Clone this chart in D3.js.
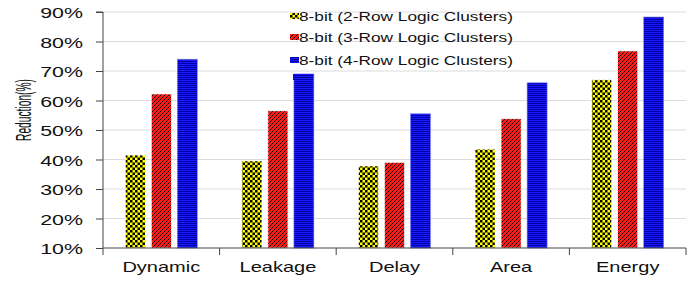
<html>
<script src="https://d3js.org/d3.v7.min.js"></script>
<body style="margin:0;background:#fff">
<script>
var categories = ['Dynamic', 'Leakage', 'Delay', 'Area', 'Energy']
var seriesNames = ['8-bit (2-Row Logic Clusters)', '8-bit (3-Row Logic Clusters)', '8-bit (4-Row Logic Clusters)']
var twoRow = [41.5, 39.5, 37.8, 43.5, 67.0]
var threeRow = [62.2, 56.5, 39.0, 53.8, 76.8]
var fourRow = [74.0, 69.0, 55.5, 66.0, 88.3]
var yTicks = [10, 20, 30, 40, 50, 60, 70, 80, 90]

var width = 691, height = 282
var margin = {left: 103, right: 5, top: 12, bottom: 34}
var stretch = 1.38   // the text in the picture is drawn wide
var svg = d3.select('body').append('svg').attr('width', width).attr('height', height)
    .style('font-family', 'Arial, "Liberation Sans", sans-serif')

var defs = svg.append('defs')
// yellow / black checkerboard
var p0 = defs.append('pattern').attr('id', 'p0').attr('patternUnits', 'userSpaceOnUse').attr('width', 5).attr('height', 5)
p0.append('rect').attr('width', 5).attr('height', 5).attr('fill', '#ffff00')
p0.append('rect').attr('width', 2.5).attr('height', 2.5).attr('fill', '#000')
p0.append('rect').attr('x', 2.5).attr('y', 2.5).attr('width', 2.5).attr('height', 2.5).attr('fill', '#000')
// red with diagonal black hatch
var p1 = defs.append('pattern').attr('id', 'p1').attr('patternUnits', 'userSpaceOnUse').attr('width', 4).attr('height', 4)
p1.append('rect').attr('width', 4).attr('height', 4).attr('fill', '#ff1a1a')
p1.append('path').attr('d', 'M-1,1 L1,-1 M0,4 L4,0 M3,5 L5,3').attr('stroke', '#000').attr('stroke-width', 0.9)
// blue with horizontal dark lines
var p2 = defs.append('pattern').attr('id', 'p2').attr('patternUnits', 'userSpaceOnUse').attr('width', 4).attr('height', 2)
p2.append('rect').attr('width', 4).attr('height', 2).attr('fill', '#1a1aff')
p2.append('rect').attr('y', 1).attr('width', 4).attr('height', 1).attr('fill', '#0000a8')

var fills = ['url(#p0)', 'url(#p1)', 'url(#p2)']
var data = [twoRow, threeRow, fourRow]

var x = d3.scaleBand().domain(categories).range([margin.left, width - margin.right])
var y = d3.scaleLinear().domain([10, 90]).range([height - margin.bottom, margin.top])

// gridlines
svg.append('g').selectAll('line').data(yTicks.slice(1)).enter().append('line')
    .attr('x1', margin.left).attr('x2', width - margin.right)
    .attr('y1', function(d){return y(d)}).attr('y2', function(d){return y(d)})
    .attr('stroke', '#dcdcdc').attr('stroke-width', 1)

// bars
var barW = 20, gap = 6
data.forEach(function(vals, s) {
    svg.append('g').selectAll('rect').data(vals).enter().append('rect')
        .attr('x', function(d, i){return x(categories[i]) + x.bandwidth()/2 - 1.5*barW - gap + s*(barW + gap)})
        .attr('y', function(d){return y(d)})
        .attr('width', barW)
        .attr('height', function(d){return y(10) - y(d)})
        .attr('fill', fills[s])
        .attr('stroke', s == 2 ? '#8080ff' : '#fff').attr('stroke-width', 0.6)
})

// y axis
var yAxis = svg.append('g').attr('transform', `translate(${margin.left},0)`)
    .call(d3.axisLeft(y).tickValues(yTicks).tickSize(7).tickFormat(function(d){return d + '%'}))
yAxis.select('.domain').attr('stroke', '#444').attr('d', `M-7,${y(90)}H0V${y(10)}`)
yAxis.selectAll('.tick line').attr('stroke', '#444')
yAxis.selectAll('.tick text').attr('x', 0).attr('dy', null).attr('y', 5.5)
    .attr('transform', `translate(-20,0) scale(${stretch},1)`)
    .attr('font-size', 15.5).attr('fill', '#111')
    .style('font-family', 'Arial, "Liberation Sans", sans-serif')

// x axis
var xAxis = svg.append('g').attr('transform', `translate(0,${y(10)})`)
xAxis.append('line').attr('x1', margin.left).attr('x2', width - margin.right).attr('stroke', '#444')
xAxis.selectAll('.tk').data(categories.concat(['end'])).enter().append('line')
    .attr('x1', function(d){return d == 'end' ? width - margin.right : x(d)})
    .attr('x2', function(d){return d == 'end' ? width - margin.right : x(d)})
    .attr('y1', 0).attr('y2', 7).attr('stroke', '#444')
xAxis.selectAll('text').data(categories).enter().append('text')
    .attr('transform', function(d){return `translate(${x(d) + x.bandwidth()/2},24) scale(${stretch},1)`})
    .attr('text-anchor', 'middle').attr('font-size', 14.5).attr('fill', '#111').text(function(d){return d})

// y title: squeezed along its length, widened across
svg.append('text').attr('transform', `translate(31,110) rotate(-90) scale(0.64,${stretch})`)
    .attr('text-anchor', 'middle')
    .attr('font-size', 16).attr('fill', '#111')
    .text('Reduction(%)')

// legend
var legendY = [16, 37, 60]
var lg = svg.append('g')
seriesNames.forEach(function(name, i) {
    lg.append('rect').attr('x', 290).attr('y', legendY[i] - 3).attr('width', 9).attr('height', 6).attr('fill', fills[i])
    lg.append('text').attr('transform', `translate(299,${legendY[i] + 4.5}) scale(1.44,1)`)
        .attr('font-size', 12).attr('fill', '#111').text(name)
})
lg.append('rect').attr('x', 293).attr('y', 74).attr('width', 20).attr('height', 6).attr('fill', 'url(#p2)')
</script>
</body>
</html>
